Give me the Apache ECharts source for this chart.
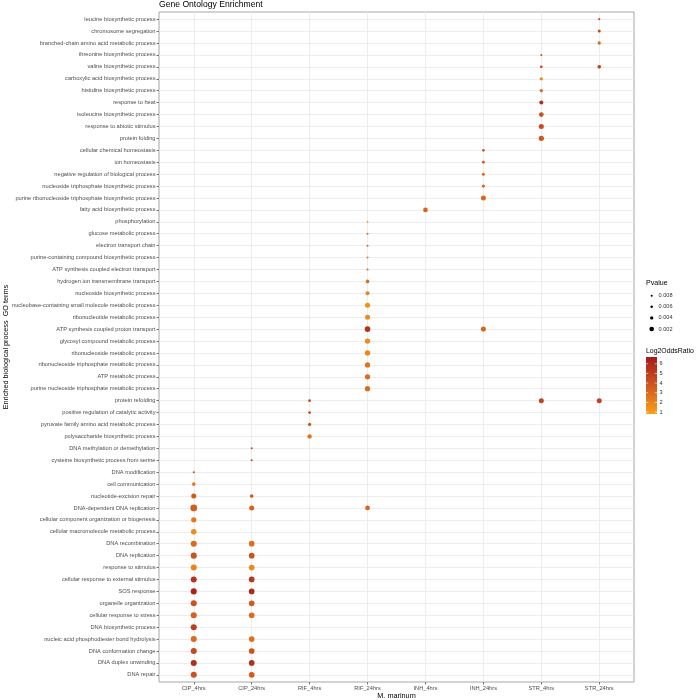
<!DOCTYPE html>
<html><head><meta charset="utf-8">
<script src="https://cdn.jsdelivr.net/npm/echarts@6/dist/echarts.min.js"></script>
<style>html,body{margin:0;padding:0;background:#fff}#c{width:696px;height:700px}</style>
</head><body><div id="c"></div>
<script>
const conditions = ['CIP_4hrs','CIP_24hrs','RIF_4hrs','RIF_24hrs','INH_4hrs','INH_24hrs','STR_4hrs','STR_24hrs'];
const goTerms = [
 'leucine biosynthetic process','chromosome segregation','branched-chain amino acid metabolic process',
 'threonine biosynthetic process','valine biosynthetic process','carboxylic acid biosynthetic process',
 'histidine biosynthetic process','response to heat','isoleucine biosynthetic process',
 'response to abiotic stimulus','protein folding','cellular chemical homeostasis','ion homeostasis',
 'negative regulation of biological process','nucleoside triphosphate biosynthetic process',
 'purine ribonucleoside triphosphate biosynthetic process','fatty acid biosynthetic process',
 'phosphorylation','glucose metabolic process','electron transport chain',
 'purine-containing compound biosynthetic process','ATP synthesis coupled electron transport',
 'hydrogen ion transmembrane transport','nucleoside biosynthetic process',
 'nucleobase-containing small molecule metabolic process','ribonucleotide metabolic process',
 'ATP synthesis coupled proton transport','glycosyl compound metabolic process',
 'ribonucleoside metabolic process','ribonucleoside triphosphate metabolic process',
 'ATP metabolic process','purine nucleoside triphosphate metabolic process','protein refolding',
 'positive regulation of catalytic activity','pyruvate family amino acid metabolic process',
 'polysaccharide biosynthetic process','DNA methylation or demethylation',
 'cysteine biosynthetic process from serine','DNA modification','cell communication',
 'nucleotide-excision repair','DNA-dependent DNA replication',
 'cellular component organization or biogenesis','cellular macromolecule metabolic process',
 'DNA recombination','DNA replication','response to stimulus','cellular response to external stimulus',
 'SOS response','organelle organization','cellular response to stress','DNA biosynthetic process',
 'nucleic acid phosphodiester bond hydrolysis','DNA conformation change','DNA duplex unwinding','DNA repair'
];

// CIP_4hrs
const cip4Terms = ['DNA modification','cell communication','nucleotide-excision repair','DNA-dependent DNA replication',
 'cellular component organization or biogenesis','cellular macromolecule metabolic process','DNA recombination',
 'DNA replication','response to stimulus','cellular response to external stimulus','SOS response',
 'organelle organization','cellular response to stress','DNA biosynthetic process',
 'nucleic acid phosphodiester bond hydrolysis','DNA conformation change','DNA duplex unwinding','DNA repair'];
const cip4LogOR = [4.6, 2.3, 3.7, 3.5, 2.4, 1.6, 3.0, 4.0, 1.9, 5.5, 6.3, 4.0, 3.4, 5.0, 3.0, 4.4, 5.8, 4.0];
const cip4P = [0.008, 0.0034, 0.0017, 0.0007, 0.0015, 0.0013, 0.001, 0.001, 0.001, 0.001, 0.001, 0.001, 0.001, 0.001, 0.001, 0.001, 0.001, 0.001];

// CIP_24hrs
const cip24Terms = ['DNA methylation or demethylation','cysteine biosynthetic process from serine','nucleotide-excision repair',
 'DNA-dependent DNA replication','DNA recombination','DNA replication','response to stimulus',
 'cellular response to external stimulus','SOS response','organelle organization','cellular response to stress',
 'nucleic acid phosphodiester bond hydrolysis','DNA conformation change','DNA duplex unwinding','DNA repair'];
const cip24LogOR = [4.8, 4.8, 3.5, 3.3, 2.8, 4.0, 1.7, 5.3, 6.0, 3.6, 2.9, 2.7, 4.0, 5.6, 3.6];
const cip24P = [0.008, 0.008, 0.0034, 0.0017, 0.0012, 0.0012, 0.0012, 0.0012, 0.0012, 0.0012, 0.0012, 0.0012, 0.0012, 0.0012, 0.0012];

// RIF_4hrs
const rif4Terms = ['protein refolding','positive regulation of catalytic activity',
 'pyruvate family amino acid metabolic process','polysaccharide biosynthetic process'];
const rif4LogOR = [4.6, 4.6, 4.0, 2.6];
const rif4P = [0.0055, 0.0055, 0.0042, 0.0024];

// RIF_24hrs
const rif24Terms = ['phosphorylation','glucose metabolic process','electron transport chain',
 'purine-containing compound biosynthetic process','ATP synthesis coupled electron transport',
 'hydrogen ion transmembrane transport','nucleoside biosynthetic process',
 'nucleobase-containing small molecule metabolic process','ribonucleotide metabolic process',
 'ATP synthesis coupled proton transport','glycosyl compound metabolic process','ribonucleoside metabolic process',
 'ribonucleoside triphosphate metabolic process','ATP metabolic process',
 'purine nucleoside triphosphate metabolic process','DNA-dependent DNA replication'];
const rif24LogOR = [1.5, 2.8, 2.8, 2.3, 3.0, 2.7, 2.0, 1.5, 1.7, 5.6, 1.6, 1.9, 2.6, 2.9, 2.9, 3.2];
const rif24P = [0.0092, 0.008, 0.008, 0.008, 0.008, 0.0034, 0.0029, 0.0017, 0.0017, 0.0012, 0.0015, 0.0015, 0.0015, 0.0015, 0.0015, 0.002];

// INH_4hrs
const inh4Terms = ['fatty acid biosynthetic process'];
const inh4LogOR = [3.2];
const inh4P = [0.002];

// INH_24hrs
const inh24Terms = ['cellular chemical homeostasis','ion homeostasis','negative regulation of biological process',
 'nucleoside triphosphate biosynthetic process','purine ribonucleoside triphosphate biosynthetic process',
 'ATP synthesis coupled proton transport'];
const inh24LogOR = [3.8, 3.8, 3.0, 3.0, 3.1, 3.2];
const inh24P = [0.0055, 0.0055, 0.0048, 0.0042, 0.0017, 0.0017];

// STR_4hrs
const str4Terms = ['threonine biosynthetic process','valine biosynthetic process','carboxylic acid biosynthetic process',
 'histidine biosynthetic process','response to heat','isoleucine biosynthetic process',
 'response to abiotic stimulus','protein folding','protein refolding'];
const str4LogOR = [4.3, 4.3, 1.7, 3.0, 5.8, 4.0, 4.3, 3.8, 4.7];
const str4P = [0.008, 0.0055, 0.0042, 0.0042, 0.0029, 0.002, 0.0017, 0.0015, 0.0017];

// STR_24hrs
const str24Terms = ['leucine biosynthetic process','chromosome segregation','branched-chain amino acid metabolic process',
 'valine biosynthetic process','protein refolding'];
const str24LogOR = [4.3, 4.6, 3.1, 4.7, 4.7];
const str24P = [0.0075, 0.0048, 0.0042, 0.0034, 0.0017];

const pLegend = [0.008, 0.006, 0.004, 0.002];
const orLegend = [1, 2, 3, 4, 5, 6];
const orMin = 0.8, orMax = 6.7;

const groups = [
  [cip4Terms, cip4LogOR, cip4P], [cip24Terms, cip24LogOR, cip24P],
  [rif4Terms, rif4LogOR, rif4P], [rif24Terms, rif24LogOR, rif24P],
  [inh4Terms, inh4LogOR, inh4P], [inh24Terms, inh24LogOR, inh24P],
  [str4Terms, str4LogOR, str4P], [str24Terms, str24LogOR, str24P]
];
const points = [];
groups.forEach((g, ci) => g[0].forEach((t, k) => points.push([ci, goTerms.indexOf(t), g[1][k], g[2][k]])));

const sizeOf = p => Math.max(1.5, -7.4 + 4.485 * (-Math.log10(p)));
const cLow = '#F9A11B', cMid = '#D0571F', cHigh = '#A41B1D';
const FONT = 'Liberation Sans';

// panel geometry
const PL = 159, PT = 12, PW = 475, PH = 670;

// legend graphics
const graphics = [];
graphics.push({type:'text', left: 646, top: 280, style:{text:'Pvalue', fontSize:7.1, fontFamily:FONT, fill:'#000'}});
pLegend.forEach((p, i) => {
  const cy = 295.7 + i * 11.1;
  graphics.push({type:'circle', shape:{cx:651.7, cy:cy, r:sizeOf(p)/2}, style:{fill:'#000'}});
  graphics.push({type:'text', x:658.5, y:cy, style:{text:String(p), fontSize:5.6, fontFamily:FONT, fill:'#333', verticalAlign:'middle'}});
});
graphics.push({type:'text', left: 646, top: 348, style:{text:'Log2OddsRatio', fontSize:6.9, fontFamily:FONT, fill:'#000'}});
const barX = 646, barY = 357, barW = 11, barH = 57;
graphics.push({type:'rect', shape:{x:barX, y:barY, width:barW, height:barH},
  style:{fill:{type:'linear', x:0, y:1, x2:0, y2:0, colorStops:[{offset:0,color:cLow},{offset:0.5,color:cMid},{offset:1,color:cHigh}]}}});
orLegend.forEach(v => {
  const y = barY + barH - (v - orMin) / (orMax - orMin) * barH;
  graphics.push({type:'line', shape:{x1:barX, y1:y, x2:barX+2.2, y2:y}, style:{stroke:'#fff', lineWidth:0.6}});
  graphics.push({type:'line', shape:{x1:barX+barW-2.2, y1:y, x2:barX+barW, y2:y}, style:{stroke:'#fff', lineWidth:0.6}});
  graphics.push({type:'text', x:barX+barW+2.5, y:y, style:{text:String(v), fontSize:5.6, fontFamily:FONT, fill:'#333', verticalAlign:'middle'}});
});

const chart = echarts.init(document.getElementById('c'), null, {renderer:'canvas'});
chart.setOption({
  animation: false,
  backgroundColor: '#fff',
  textStyle: {fontFamily: FONT},
  title: {text:'Gene Ontology Enrichment', left: PL, top: 0, padding: 0,
    textStyle:{fontSize:8.6, fontWeight:'normal', color:'#000', fontFamily:FONT}},
  grid: {left: PL, top: PT, width: PW, height: PH, show: true, borderColor:'#A6A6A6', borderWidth: 1,
    backgroundColor:'#fff', containLabel:false, outerBoundsMode:'none'},
  xAxis: {
    type:'value', min: -0.6, max: conditions.length - 1 + 0.6,
    name:'M. marinum', nameLocation:'middle', nameGap: 10.5, nameMoveOverlap: false,
    nameTextStyle:{fontSize:7.3, color:'#000', fontFamily:FONT},
    axisLine:{show:false, onZero:false},
    axisTick:{show:true, length:2.5, lineStyle:{color:'#555', width:0.8}, customValues: conditions.map((_, i) => i)},
    axisLabel:{fontSize:5.7, color:'#4D4D4D', margin:3.5, customValues: conditions.map((_, i) => i),
      formatter: v => conditions[Math.round(v)] || ''},
    splitLine:{show:true, lineStyle:{color:'#EBEBEB', width:0.9}}
  },
  yAxis: {
    type:'value', inverse: true, min: -0.6, max: goTerms.length - 1 + 0.6,
    name:'Enriched biological process  GO terms', nameLocation:'middle', nameGap: 150, nameRotate: 90,
    nameMoveOverlap: false,
    nameTextStyle:{fontSize:7.3, color:'#000', fontFamily:FONT},
    axisLine:{show:false, onZero:false},
    axisTick:{show:true, length:2.5, lineStyle:{color:'#555', width:0.8}, customValues: goTerms.map((_, i) => i)},
    axisLabel:{fontSize:5.7, color:'#4D4D4D', margin:3.5, customValues: goTerms.map((_, i) => i),
      formatter: v => goTerms[Math.round(v)] || ''},
    splitLine:{show:true, lineStyle:{color:'#EBEBEB', width:0.9}}
  },
  visualMap: {type:'continuous', show:false, dimension:2, min:orMin, max:orMax, seriesIndex:0,
    inRange:{color:[cLow, cMid, cHigh]}},
  series: [{
    type:'scatter', data: points,
    symbolSize: v => sizeOf(v[3]),
    itemStyle:{opacity:1}
  }],
  graphic: graphics
});
</script></body></html>
